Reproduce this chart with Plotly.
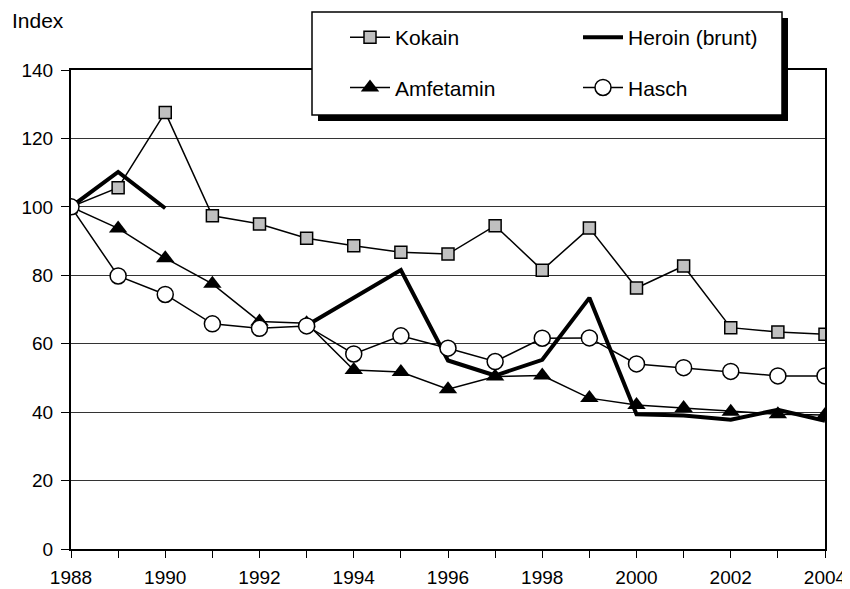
import plotly.graph_objects as go

years = list(range(1988, 2005))
kokain = [100, 105.6, 127.6, 97.4, 95.0, 90.8, 88.6, 86.7, 86.2, 94.5, 81.5, 93.8, 76.3, 82.7, 64.7, 63.4, 62.8]
heroin = [100, 110.2, 99.6, None, None, 65.3, 73.4, 81.5, 55.1, 50.7, 55.3, 73.4, 39.4, 39.0, 37.8, 40.7, 37.5]
amfetamin = [100, 93.7, 85.0, 77.5, 66.5, 66.0, 52.3, 51.7, 46.7, 50.4, 50.7, 44.1, 42.1, 41.2, 40.1, 39.4, 39.2]
hasch = [100, 79.8, 74.4, 65.8, 64.5, 65.2, 57.0, 62.3, 58.7, 54.8, 61.6, 61.7, 54.1, 53.0, 51.9, 50.6, 50.6]
x_labels = list(range(1988, 2005, 2))
y_ticks = list(range(0, 141, 20))

# the page body adds an 8px margin; figure is sized so screen coords match the reference
OFF = 8
W, H = 850 - OFF, 589 - OFF
L, R, T, B = 71 - OFF, 25, 70 - OFF, 40
PW, PH = W - L - R, H - T - B

def px(x):
    # screen pixel x -> paper coordinate
    return (x - OFF - L) / PW

def py(y):
    # screen pixel y -> paper coordinate
    return (H - B - (y - OFF)) / PH

FONT = "Liberation Sans, Arial, sans-serif"

fig = go.Figure()
fig.add_trace(go.Scatter(x=years, y=kokain, name="Kokain", mode="lines+markers",
                         line=dict(color="black", width=1.5),
                         marker=dict(symbol="square", size=12, color="#c0c0c0",
                                     line=dict(color="black", width=1.5)),
                         legend="legend", legendgroup="k"))
fig.add_trace(go.Scatter(x=years, y=heroin, name="Heroin (brunt)", mode="lines",
                         line=dict(color="black", width=4), connectgaps=False,
                         legend="legend2", legendgroup="h"))
fig.add_trace(go.Scatter(x=years, y=amfetamin, name="Amfetamin", mode="lines+markers",
                         line=dict(color="black", width=1.5),
                         marker=dict(symbol="triangle-up", size=16, color="black",
                                     line=dict(color="black", width=0)),
                         legend="legend", legendgroup="a"))
fig.add_trace(go.Scatter(x=years, y=hasch, name="Hasch", mode="lines+markers",
                         line=dict(color="black", width=1.5),
                         marker=dict(symbol="circle", size=16, color="white",
                                     line=dict(color="black", width=1.5)),
                         legend="legend2", legendgroup="s"))

legend_common = dict(orientation="v", traceorder="grouped", tracegroupgap=20,
                     bgcolor="rgba(0,0,0,0)", borderwidth=0,
                     font=dict(family=FONT, size=21, color="black"),
                     xanchor="left", yanchor="top", itemwidth=40)

fig.update_layout(
    width=W, height=H,
    margin=dict(l=L, r=R, t=T, b=B, autoexpand=False),
    paper_bgcolor="white", plot_bgcolor="white",
    font=dict(family=FONT, size=19, color="black"),
    showlegend=True,
    legend=dict(x=px(345), y=py(17), **legend_common),
    legend2=dict(x=px(578), y=py(17), **legend_common),
    xaxis=dict(range=[1988, 2004], tickvals=x_labels, ticktext=[str(v) for v in x_labels],
               ticks="outside", ticklen=7, tickwidth=1, tickcolor="black",
               ticklabelstandoff=3,
               minor=dict(dtick=1, tick0=1988, ticks="outside", ticklen=7, tickwidth=1, tickcolor="black"),
               showgrid=False, zeroline=False,
               showline=True, linecolor="black", linewidth=2, mirror=True,
               tickfont=dict(family=FONT, size=19, color="black")),
    yaxis=dict(range=[0, 140], tickvals=y_ticks,
               ticks="outside", ticklen=8, tickwidth=1, tickcolor="black",
               ticklabelstandoff=4,
               showgrid=True, gridcolor="#333333", gridwidth=1, zeroline=False,
               showline=True, linecolor="black", linewidth=2, mirror=True,
               tickfont=dict(family=FONT, size=19, color="black")),
    shapes=[
        dict(type="rect", xref="paper", yref="paper", layer="above",
             x0=px(318), x1=px(788), y0=py(121), y1=py(18),
             fillcolor="black", line=dict(width=0)),
        dict(type="rect", xref="paper", yref="paper", layer="above",
             x0=px(312), x1=px(782), y0=py(115), y1=py(12),
             fillcolor="white", line=dict(color="black", width=1.5)),
    ],
    annotations=[
        dict(text="Index", xref="paper", yref="paper", x=px(10), y=py(21),
             xanchor="left", yanchor="middle", showarrow=False,
             font=dict(family=FONT, size=21, color="black")),
    ],
)

fig.write_html("out.html")
